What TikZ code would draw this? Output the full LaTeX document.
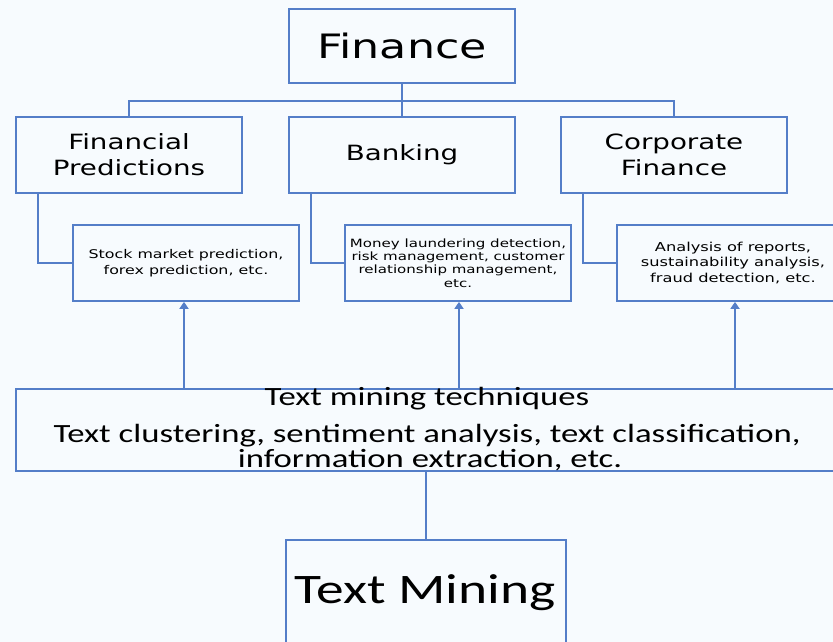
\documentclass[tikz,border=0pt]{standalone}
\usepackage{fontspec}
\usetikzlibrary{arrows.meta,calc}
% wide sans faces used throughout the chart
\newfontfamily\headfont[FakeStretch=1.32]{DejaVu Sans}
\newfontfamily\bodyfont[FakeStretch=1.32]{Carlito}
\definecolor{edgeblue}{RGB}{84,126,200}
\definecolor{paper}{RGB}{247,251,254}
\tikzset{
  box/.style={draw=edgeblue, line width=1.7pt, fill=paper, inner sep=0pt,
              align=center, text=black},
  headbox/.style={box, minimum width=226pt, minimum height=76pt,
                  font=\headfont\fontsize{21}{26}\selectfont},
  detailbox/.style={box, minimum width=226pt, minimum height=76pt},
  link/.style={draw=edgeblue, line width=1.7pt},
  uparrow/.style={link, -{Triangle[width=9pt,length=7pt]}},
  bodytext/.style={inner sep=0pt, anchor=base, font=\bodyfont\fontsize{26.3}{26}\selectfont}
}
\begin{document}
\begin{tikzpicture}[x=1pt,y=-1pt]
  \fill[paper] (0,0) rectangle (833,642);
  \useasboundingbox (0,0) rectangle (833,642);
  \clip (0,0) rectangle (833,642);

  % top of the hierarchy
  \node[box, minimum width=226pt, minimum height=74pt,
        font=\headfont\fontsize{33.6}{38}\selectfont] (fin) at (402,46) {Finance};

  % three application areas
  \node[headbox] (fp)   at (129,155) {Financial\\Predictions};
  \node[headbox] (bank) at (402,155) {Banking};
  \node[headbox] (cf)   at (674,155) {Corporate\\Finance};

  % example tasks for each area
  \node[detailbox, font=\headfont\fontsize{12}{16}\selectfont] (fpd) at (186,263)
    {Stock market prediction,\\forex prediction, etc.};
  \node[detailbox, font=\headfont\fontsize{11.4}{13.4}\selectfont] (bankd) at (458,263)
    {Money laundering detection,\\risk management, customer\\relationship management,\\etc.};
  \node[detailbox, minimum width=232pt, font=\headfont\fontsize{12.3}{15.5}\selectfont] (cfd) at (733,263)
    {Analysis of reports,\\sustainability analysis,\\fraud detection, etc.};

  % techniques box
  \node[box, minimum width=824pt, minimum height=82pt] (tmt) at (428,430) {};
  \node[bodytext] (tmt1) at (427,405) {Text mining techniques};
  \node[bodytext] (tmt2) at (427,442) {Text clustering, sentiment analysis, text classification,};
  \node[bodytext] (tmt3) at (430,467) {information extraction, etc.};

  % source box at the bottom
  \node[box, minimum width=280pt, minimum height=140pt] (tm) at (426,610) {};
  \node[inner sep=0pt, anchor=base, font=\bodyfont\fontsize{42}{46}\selectfont]
    (tmlabel) at (425,603) {Text Mining};

  % tree connectors
  \coordinate (bus) at (402,101);
  \path[link] (fp.north) |- (bus) -| (cf.north);
  \path[link] (fin.south) -- (bank.north);

  \path[link] ($(fp.south west)+(23,0)$)   |- (fpd.west);
  \path[link] ($(bank.south west)+(23,0)$) |- (bankd.west);
  \path[link] ($(cf.south west)+(23,0)$)   |- (cfd.west);

  % techniques feed each group of tasks
  \path[uparrow] ($(fpd.south |- tmt.north)+(-2,0)$) -- ($(fpd.south)+(-2,0)$);
  \path[uparrow] ($(bankd.south |- tmt.north)+(1,0)$) -- ($(bankd.south)+(1,0)$);
  \path[uparrow] ($(cfd.south |- tmt.north)+(2,0)$) -- ($(cfd.south)+(2,0)$);

  \path[link] (tm.north) -- (tm.north |- tmt.south);
\end{tikzpicture}
\end{document}
